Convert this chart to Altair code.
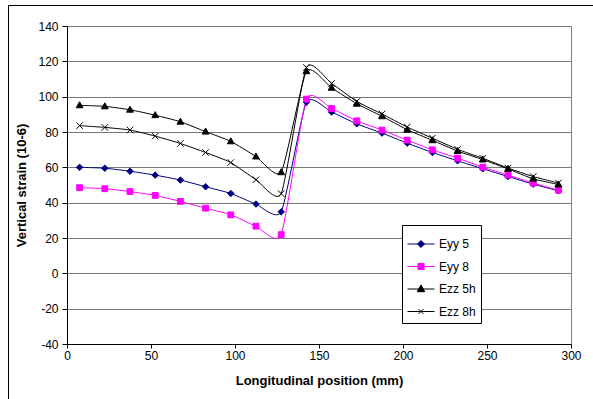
import altair as alt
import pandas as pd

# ---- data ----
positions = [7.5, 22.5, 37.5, 52.5, 67.5, 82.5, 97.5, 112.5, 127.5, 142.5,
             157.5, 172.5, 187.5, 202.5, 217.5, 232.5, 247.5, 262.5, 277.5, 292.5]
series_names = ["Eyy 5", "Eyy 8", "Ezz 5h", "Ezz 8h"]
eyy5 = [60.0, 59.5, 57.8, 55.6, 52.8, 49.0, 45.2, 39.2, 34.8, 96.8,
        91.3, 84.6, 79.4, 73.7, 68.4, 63.7, 59.2, 54.8, 50.5, 46.7]
eyy8 = [48.5, 47.9, 46.3, 44.1, 40.7, 36.9, 33.1, 26.7, 21.9, 98.6,
        93.3, 86.3, 81.1, 75.4, 69.9, 65.2, 60.1, 55.6, 51.1, 47.1]
ezz5h = [95.1, 94.5, 92.6, 89.5, 85.8, 80.2, 74.7, 66.1, 57.2, 114.4,
         105.0, 96.0, 88.9, 81.3, 75.3, 69.2, 64.4, 59.1, 53.5, 50.3]
ezz8h = [83.6, 82.6, 81.1, 77.7, 73.5, 68.4, 62.7, 53.0, 45.1, 116.5,
         107.5, 97.3, 90.2, 82.8, 76.5, 70.2, 65.1, 59.6, 54.8, 51.1]
colors = ["#000080", "#FF00FF", "#000000", "#000000"]
x_ticks = [0, 50, 100, 150, 200, 250, 300]
y_ticks = [-40, -20, 0, 20, 40, 60, 80, 100, 120, 140]

rows = []
for name, vals in zip(series_names, [eyy5, eyy8, ezz5h, ezz8h]):
    for p, v in zip(positions, vals):
        rows.append({"series": name, "pos": p, "strain": v})
df = pd.DataFrame(rows)

FONT = "Liberation Sans"

point_paths = {
    "Eyy 5": "M0,-1L1,0L0,1L-1,0Z",
    "Eyy 8": "M-0.9,-0.9H0.9V0.9H-0.9Z",
    "Ezz 5h": "M0,-1.1L1.05,0.75L-1.05,0.75Z",
    "Ezz 8h": "M-1,-1L1,1M-1,1L1,-1",
}
legend_paths = [
    "M-1,0H1M0,-0.26L0.26,0L0,0.26L-0.26,0Z",
    "M-1,0H1M-0.23,-0.23H0.23V0.23H-0.23Z",
    "M-1,0H1M0,-0.3L0.28,0.2H-0.28Z",
    "M-1,0H1M-0.18,-0.18L0.18,0.18M-0.18,0.18L0.18,-0.18",
]

x_enc = alt.X(
    "pos:Q",
    scale=alt.Scale(domain=[0, 300], nice=False, zero=False),
    axis=alt.Axis(values=x_ticks, title="Longitudinal position (mm)", grid=False,
                  tickSize=4, labelPadding=2, titlePadding=13, labelFlush=False),
)
y_enc = alt.Y(
    "strain:Q",
    scale=alt.Scale(domain=[-40, 140], nice=False, zero=False),
    axis=alt.Axis(values=y_ticks, title="Vertical strain (10-6)", grid=True,
                  tickSize=5, labelPadding=4, titlePadding=9,
                  labelExpr="'' + datum.value"),
)

base = alt.Chart(df)
layers = []

frame = alt.Chart(pd.DataFrame({"k": [0]}))
layers.append(frame.mark_rule(color="black", strokeWidth=1).encode(
    x=alt.value(-58.5), y=alt.value(-20.5), y2=alt.value(380)))
layers.append(frame.mark_rule(color="black", strokeWidth=1).encode(
    x=alt.value(-58.5), x2=alt.value(540), y=alt.value(-20.5)))

for name, col in zip(series_names, colors):
    sub = base.transform_filter(alt.datum.series == name)
    layers.append(sub.mark_line(interpolate="cardinal", tension=0.45, color=col,
                                strokeWidth=1).encode(x=x_enc, y=y_enc))
for name, col in zip(series_names, colors):
    sub = base.transform_filter(alt.datum.series == name)
    layers.append(sub.mark_point(shape=point_paths[name], size=42, filled=True, fill=col,
                                 stroke=col, strokeWidth=1, opacity=1).encode(x=x_enc, y=y_enc))

leg = alt.Legend(title=None, orient="none", legendX=335, legendY=199, symbolSize=729,
                 symbolStrokeWidth=1, labelFont=FONT, labelFontSize=12, labelColor="black",
                 padding=5, rowPadding=2.5, strokeColor="black", fillColor="white",
                 labelOffset=4, cornerRadius=0, labelLimit=0)
legend_layer = base.transform_filter("false").mark_point(filled=True, strokeWidth=1, opacity=1).encode(
    x=x_enc, y=y_enc,
    fill=alt.Fill("series:N", scale=alt.Scale(domain=series_names, range=colors), legend=leg),
    stroke=alt.Stroke("series:N", scale=alt.Scale(domain=series_names, range=colors), legend=leg),
    shape=alt.Shape("series:N", scale=alt.Scale(domain=series_names, range=legend_paths), legend=leg),
)
layers.append(legend_layer)

chart = alt.layer(*layers).properties(
    width=504, height=318,
    autosize=alt.AutoSizeParams(type="none"),
    padding={"left": 67, "top": 26, "right": 22, "bottom": 55},
    background="white",
).configure_view(
    stroke="#808080", strokeWidth=1
).configure_axis(
    domainColor="black", tickColor="black", gridColor="#777777", gridWidth=1,
    labelFont=FONT, labelFontSize=12, labelColor="black",
    titleFont=FONT, titleFontSize=13, titleFontWeight="bold", titleColor="black",
)

chart.save("out.html", embed_options={"renderer": "svg", "actions": False})
